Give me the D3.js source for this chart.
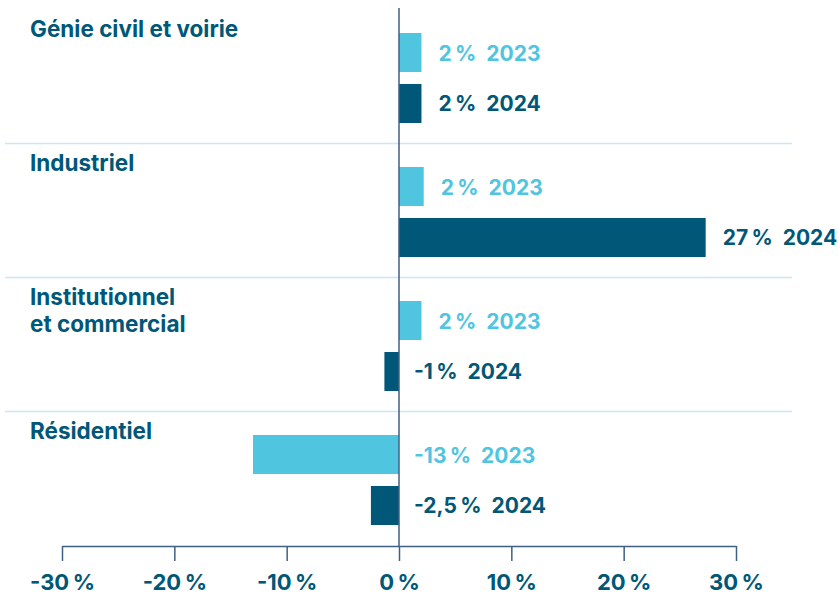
<!DOCTYPE html>
<html>
<head>
<meta charset="utf-8">
<script src="https://cdn.jsdelivr.net/npm/d3@7"></script>
<style>
  body { margin: 0; background: #fff; }
  text { font-family: Inter, "Open Sans", sans-serif; font-weight: 700; }
</style>
</head>
<body>
<div id="chart"></div>
<script>
// categories and series
var categories = ["Génie civil et voirie", "Industriel", "Institutionnel et commercial", "Résidentiel"];
var categoryLines = [["Génie civil et voirie"], ["Industriel"], ["Institutionnel", "et commercial"], ["Résidentiel"]];
var years = ["2023", "2024"];
var values2023 = [2.0, 2.2, 2.0, -13];
var values2024 = [2.0, 27.3, -1.3, -2.5];
var labels2023 = ["2\u202F%", "2\u202F%", "2\u202F%", "-13\u202F%"];
var labels2024 = ["2\u202F%", "27\u202F%", "-1\u202F%", "-2,5\u202F%"];
var tickValues = [-30, -20, -10, 0, 10, 20, 30];
var tickLabels = ["-30\u202F%", "-20\u202F%", "-10\u202F%", "0\u202F%", "10\u202F%", "20\u202F%", "30\u202F%"];

var width = 838, height = 595;
var dark = "#005778", light = "#50c5e0", axisColor = "#3f5f86", sepColor = "#cbe8f2";

var svg = d3.select("#chart").append("svg")
    .attr("width", width)
    .attr("height", height);

var x = d3.scaleLinear().domain([-30, 30]).range([62, 736]);

var y = d3.scaleBand().domain(categories).range([9, 545]).padding(0);

var yInner = d3.scaleBand().domain(years).range([24, 114]).paddingInner(0.235).paddingOuter(0);

var rows = categories.map(function(c, i) {
    return {cat: c, lines: categoryLines[i], vals: [values2023[i], values2024[i]], labels: [labels2023[i], labels2024[i]]};
});

// separators between groups
svg.append("g")
    .selectAll("line")
    .data(categories.slice(1))
    .enter().append("line")
    .attr("x1", 5)
    .attr("x2", 792)
    .attr("y1", function(d) { return y(d) + 0.5; })
    .attr("y2", function(d) { return y(d) + 0.5; })
    .attr("stroke", sepColor)
    .attr("stroke-width", 1.5);

var group = svg.selectAll(".grp")
    .data(rows)
    .enter().append("g")
    .attr("class", "grp")
    .attr("transform", function(d) { return "translate(0," + y(d.cat) + ")"; });

// category labels
group.append("text")
    .attr("x", 30)
    .attr("y", 28)
    .attr("fill", dark)
    .style("font-size", "22.5px")
    .selectAll("tspan")
    .data(function(d) { return d.lines; })
    .enter().append("tspan")
    .attr("x", 30)
    .attr("dy", function(d, i) { return i == 0 ? 0 : 27; })
    .text(function(d) { return d; });

var bars = group.selectAll(".bar")
    .data(function(d) {
        return years.map(function(yr, j) { return {year: yr, v: d.vals[j], label: d.labels[j]}; });
    })
    .enter().append("g")
    .attr("class", "bar");

bars.append("rect")
    .attr("x", function(d) { return x(Math.min(0, d.v)); })
    .attr("y", function(d) { return yInner(d.year); })
    .attr("width", function(d) { return Math.abs(x(d.v) - x(0)); })
    .attr("height", yInner.bandwidth())
    .attr("fill", function(d) { return d.year == "2023" ? light : dark; });

var lbl = bars.append("text")
    .attr("x", function(d) { return d.v > 0 ? x(d.v) + 17 : x(0) + 15; })
    .attr("y", function(d) { return yInner(d.year) + yInner.bandwidth() / 2 + 8; })
    .attr("fill", function(d) { return d.year == "2023" ? light : dark; })
    .style("font-size", "21px");
lbl.append("tspan").text(function(d) { return d.label; });
lbl.append("tspan").attr("dx", 10).text(function(d) { return d.year; });

// zero line
svg.append("line")
    .attr("x1", x(0)).attr("x2", x(0))
    .attr("y1", 8).attr("y2", 546)
    .attr("stroke", axisColor)
    .attr("stroke-width", 1.5);

// bottom axis
var axis = svg.append("g")
    .attr("transform", "translate(0,546)")
    .call(d3.axisBottom(x).tickValues(tickValues).tickSizeOuter(0).tickSizeInner(15)
        .tickFormat(function(d, i) { return tickLabels[i]; }));
axis.select(".domain").attr("stroke", axisColor).attr("stroke-width", 1.5);
axis.selectAll(".tick line").attr("stroke", axisColor).attr("stroke-width", 1.5);
axis.selectAll(".tick text")
    .attr("y", 44)
    .attr("dy", 0)
    .attr("fill", dark)
    .style("font-size", "22px")
    .style("font-family", "Inter, sans-serif")
    .style("font-weight", 700);
</script>
</body>
</html>
